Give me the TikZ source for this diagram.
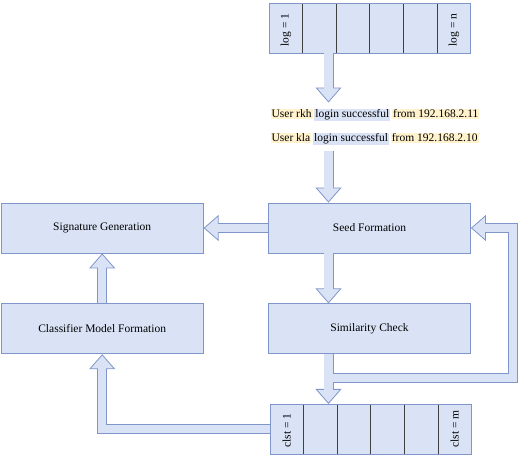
\documentclass[tikz,border=0pt]{standalone}
\usepackage{fontspec}
\setmainfont{Liberation Serif}
\usetikzlibrary{positioning,arrows.meta}

\definecolor{boxfill}{RGB}{218,227,246}
\definecolor{boxedge}{RGB}{128,150,202}
\definecolor{hlyellow}{RGB}{255,242,204}
\definecolor{hlblue}{RGB}{218,227,246}

\tikzstyle{block} = [draw=boxedge, fill=boxfill, rectangle, line width=0.8pt,
    minimum height=50pt, minimum width=202pt, font=\fontsize{11.5}{14}\selectfont]
\tikzstyle{cell} = [draw=black!75, fill=boxfill, rectangle, line width=0.8pt,
    minimum height=50pt, minimum width=33.6pt, inner sep=0pt, outer sep=0pt]
\tikzstyle{celltext} = [rotate=90, anchor=west, font=\fontsize{11.5}{14}\selectfont]
\tikzstyle{outer} = [draw=boxedge, line width=10pt,
    -{Triangle[length=15pt, width=26pt, fill=boxfill, line width=0.8pt]}]
\tikzstyle{inner} = [draw=boxfill, line width=8.4pt, shorten >=13pt]

\newcommand{\hly}[1]{\colorbox{hlyellow}{#1}}
\newcommand{\hlb}[1]{\colorbox{hlblue}{#1}}

\begin{document}
\begin{tikzpicture}[x=1pt, y=1pt, node distance=50pt]
    \useasboundingbox (0,0) rectangle (520,457);
    \setlength{\fboxsep}{1pt}

    % log buffer
    \node [cell] (log1) at (285.8,429) {};
    \foreach \i [count=\j from 2] in {1,...,5}
        \node [cell, right=0pt of log\i] (log\j) {};
    \draw [boxedge, line width=0.8pt] (log1.north west) rectangle (log6.south east);
    \node [celltext] at ([yshift=3pt]log1.south) {log = 1};
    \node [celltext] at ([yshift=3pt]log6.south) {log = n};

    % sample events
    \node [align=left, inner ysep=6pt, font=\fontsize{11.5}{24}\selectfont] (events) at (375,330)
        {\hly{User rkh}\,\hlb{login successful}\,\hly{from 192.168.2.11}\\
         \hly{User kla}\,\hlb{login successful}\,\hly{from 192.168.2.10}};

    % processing blocks
    \node [block] (seed) at (369.5,229) {Seed Formation};
    \node [block, left=64.5pt of seed] (signature) {Signature Generation};
    \node [block, below=50pt of seed] (similarity) {Similarity Check};
    \node [block, below=50pt of signature] (classifier) {Classifier Model Formation};

    % cluster buffer
    \node [cell] (clst1) at (286.8,28) {};
    \foreach \i [count=\j from 2] in {1,...,5}
        \node [cell, right=0pt of clst\i] (clst\j) {};
    \draw [boxedge, line width=0.8pt] (clst1.north west) rectangle (clst6.south east);
    \node [celltext] at ([yshift=3pt]clst1.south) {clst = 1};
    \node [celltext] at ([yshift=3pt]clst6.south) {clst = m};

    \coordinate (col) at (328.5,0);
    \coordinate (loop) at (513,79);

    % block arrows: outline first, then fill
    \foreach \pass in {outer, inner} {
        \draw [\pass] (log1.south -| col) -- (events.north -| col);
        \draw [\pass] (events.south -| col) -- (seed.north -| col);
        \draw [\pass] (seed.south -| col) -- (similarity.north -| col);
        \draw [\pass] (similarity.south -| col) -- (clst2.north -| col);
        \draw [\pass] (seed.west) -- (signature.east);
        \draw [\pass] (classifier.north) -- (signature.south);
        \draw [\pass] (clst1.west) -| (classifier.south);
        \draw [\pass] (col |- loop) -- (loop) |- (seed.east);
    }
\end{tikzpicture}
\end{document}
